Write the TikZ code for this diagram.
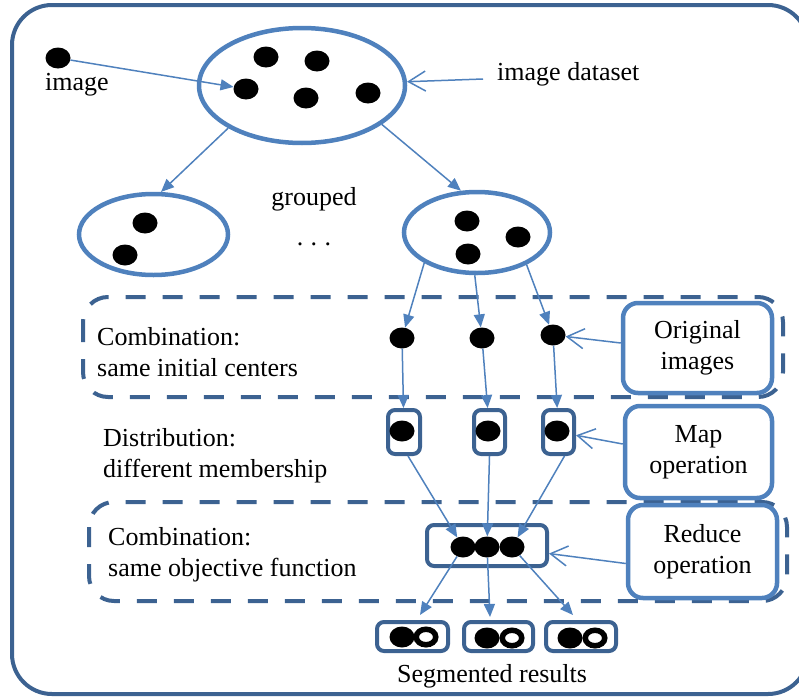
\documentclass[tikz,border=0pt]{standalone}
\usepackage{fontspec}
\setmainfont{Liberation Serif}
\usetikzlibrary{shapes.geometric,arrows.meta,calc}
\definecolor{lb}{HTML}{4F81BD}
\definecolor{db}{HTML}{3C6291}
\begin{document}
\begin{tikzpicture}[x=1pt,y=-1pt,
  every node/.style={font=\fontsize{26}{31}\selectfont, inner sep=0pt},
  dot/.style={ellipse, fill=black, minimum width=25pt, minimum height=21pt},
  ringdot/.style={ellipse, fill=white, draw=black, line width=5.5pt, minimum width=19.5pt, minimum height=15.5pt},
  grp/.style={ellipse, draw=lb, line width=4.5pt},
  opbox/.style={rectangle, draw=db, line width=4pt, rounded corners=7pt},
  lblbox/.style={rectangle, draw=lb, fill=white, line width=4.5pt, rounded corners=15pt, align=center},
  dashbox/.style={draw=db, line width=4pt, dash pattern=on 20pt off 17pt, rounded corners=25pt},
  arr/.style={draw=lb, line width=1.5pt, -{Triangle[length=13pt,width=11pt]}},
  barb/.style={draw=lb, line width=1.5pt, -{Straight Barb[length=17pt,width=20pt]}},
  txt/.style={align=left, anchor=west}
]
\useasboundingbox (0,0) rectangle (799,696);
\clip (0,0) rectangle (799,696);
% outer frame
\draw[db, line width=4pt, rounded corners=40pt] (12,5) rectangle (808,694);

% dashed group frames
\draw[dashbox] (83,297) rectangle (783,397);
\draw[dashbox] (89,502) rectangle (787,601);

% image dataset
\node[grp, minimum width=206pt, minimum height=115pt] (big) at (302,85.5) {};
\node[dot] (b1) at (266,57) {};
\node[dot] (b2) at (317,61) {};
\node[dot] (b3) at (246,89) {};
\node[dot] (b4) at (306,98) {};
\node[dot] (b5) at (368,93) {};

\node[dot] (img) at (58,58) {};
\node (imgt) at (77,85) {image};
\node[anchor=west] (ids) at (497,74) {image dataset};

% groups
\node[grp, minimum width=149pt, minimum height=81pt] (gl) at (153.5,234.5) {};
\node[dot] (l1) at (145,223) {};
\node[dot] (l2) at (125,255) {};
\node[grp, minimum width=146pt, minimum height=81pt] (gr) at (477,232.5) {};
\node[dot] (r1d) at (467,221) {};
\node[dot] (r2d) at (518,237) {};
\node[dot] (r3d) at (468,254) {};
\node (grouped) at (314,199) {grouped};
\node (dots) at (314,244) {.\hspace{7.5pt}.\hspace{7.5pt}.};

% original images
\node[dot] (o1) at (402,338) {};
\node[dot] (o2) at (482,338) {};
\node[dot] (o3) at (553,335) {};

% map boxes
\node[opbox, minimum width=32pt, minimum height=44pt] (m1) at (404,432) {};
\node[opbox, minimum width=31pt, minimum height=44pt] (m2) at (489.5,432) {};
\node[opbox, minimum width=31pt, minimum height=44pt] (m3) at (558.5,432) {};
\node[dot] (md1) at (402,431) {};
\node[dot] (md2) at (488,431) {};
\node[dot] (md3) at (557,431) {};

% reduce box
\node[opbox, minimum width=120pt, minimum height=41pt] (red) at (487,545.5) {};
\node[dot] (rd1) at (463,547) {};
\node[dot] (rd2) at (487,547) {};
\node[dot] (rd3) at (512,547) {};

% result boxes
\node[opbox, minimum width=71pt, minimum height=29pt] (s1) at (412.5,636.5) {};
\node[opbox, minimum width=69pt, minimum height=29pt] (s2) at (498.5,636.5) {};
\node[opbox, minimum width=70pt, minimum height=29pt] (s3) at (581,636.5) {};
\node[dot] (sf1) at (402,637) {};
\node[ringdot] (sr1) at (426,637) {};
\node[dot] (sf2) at (487,638) {};
\node[ringdot] (sr2) at (512,638) {};
\node[dot] (sf3) at (570,638) {};
\node[ringdot] (sr3) at (595,638) {};
\node (seg) at (492,676) {Segmented results};

\coordinate (t1) at (420,615);
\coordinate (t2) at (490,617);
\coordinate (t3) at (573,615);

% left texts
\node[txt] (c1) at (97,352) {Combination:\\same initial centers};
\node[txt] (dist) at (103,456) {Distribution:\\different membership};
\node[txt] (c2) at (108,555) {Combination:\\same objective function};

% label boxes
\node[lblbox, minimum width=149pt, minimum height=90pt] (ob) at (697.5,348) {Original\\images};
\node[lblbox, minimum width=147pt, minimum height=92pt] (mb) at (698.5,452) {Map\\operation};
\node[lblbox, minimum width=149pt, minimum height=93pt] (rb) at (702.5,551.5) {Reduce\\operation};

% connectors
\draw[arr] (img) -- (b3);
\draw[barb] ([xshift=-14pt,yshift=-5pt]ids.west) -- (big);
\draw[arr] (big.210) -- (gl.80);
\draw[arr] (big.334) -- (gr.111);
\draw[arr] (gr.210) -- (o1);
\draw[arr] (gr.267) -- (o2);
\draw[arr] (gr.327) -- (o3);
\draw[arr] (o1) -- (m1);
\draw[arr] (o2) -- (m2);
\draw[arr] (o3) -- (m3);
\draw[arr] ([xshift=4pt]m1.south) -- (rd1);
\draw[arr] (m2.south) -- (rd2);
\draw[arr] ([xshift=6pt]m3.south) -- (rd3);
\draw[arr] (rd1) -- (t1);
\draw[arr] (rd2) -- (t2);
\draw[arr] (rd3) -- (t3);
\draw[barb] ([yshift=5pt]ob.west) -- (o3);
\draw[barb] ([yshift=8pt]mb.west) -- (m3);
\draw[barb] ([yshift=-12pt]rb.west) -- (red);
\end{tikzpicture}
\end{document}
